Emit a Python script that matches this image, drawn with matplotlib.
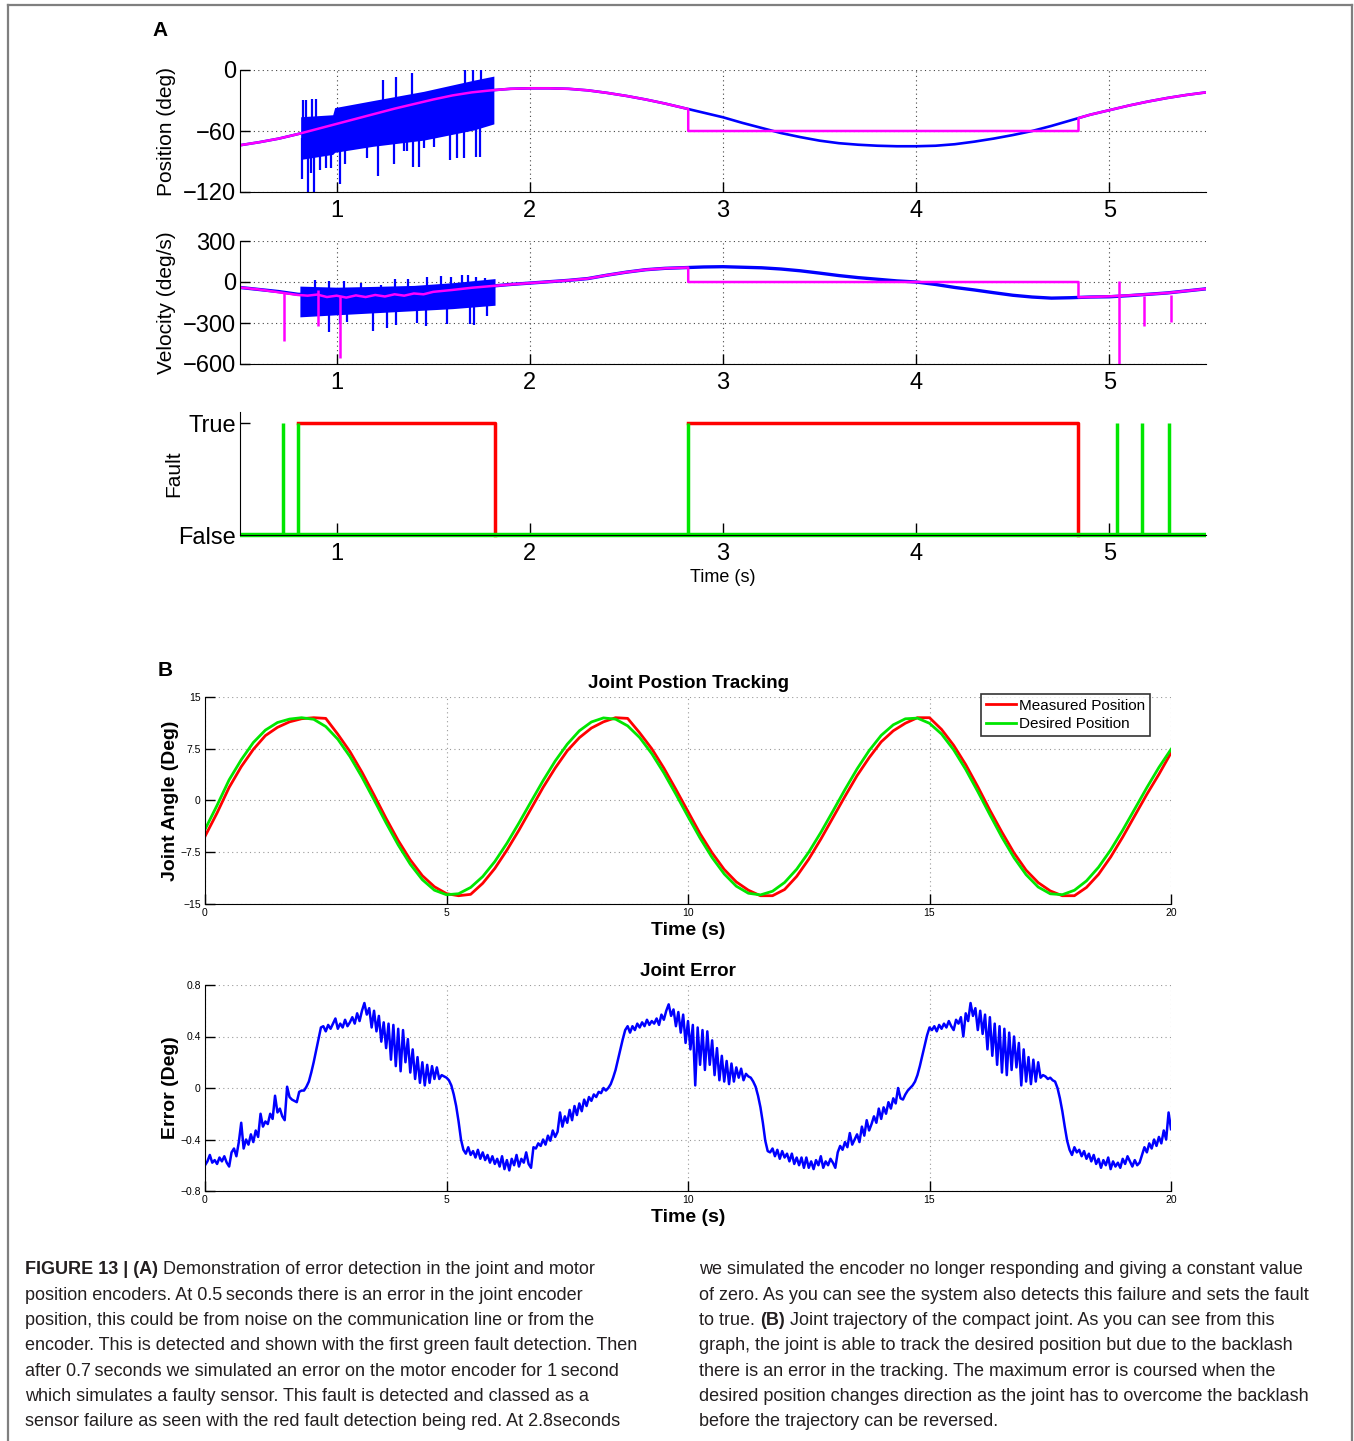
import numpy as np
import matplotlib
matplotlib.use("Agg")
import matplotlib.pyplot as plt

plt.rcParams["font.family"] = ["Liberation Sans", "DejaVu Sans"]
plt.rcParams["axes.unicode_minus"] = True

W, H = 1354, 1441
BLUE = "#0000ff"
MAGENTA = "#ff00ff"
RED = "#ff0000"
GREEN = "#00e600"
CAPTION_COLOR = "#231f20"

# ---------------- panel A data (time 0.5 .. 5.5 s, every 0.1 s) ----------------
A_T = np.linspace(0.5, 5.5, 51)

pos_joint = [-74, -71, -67.5, -63, -58, -53, -48, -43, -38, -33.5,
             -29, -25, -22, -20, -18.5, -18, -18, -18.5, -20, -22.5,
             -25.5, -29, -33, -37.5, -42, -46.5, -52, -57, -62, -66,
             -69.5, -72, -73.5, -74.5, -75, -75, -74.5, -73, -70.5, -67.5,
             -64, -60, -55, -49.5, -44, -39.5, -35, -31, -27.5, -24.5, -22]

# encoder failure: estimate held constant
pos_hold = -60.0
hold_window = (2.82, 4.84)
pos_hold_edges = (-38.4, -47.3)

# noisy burst on the joint encoder
pos_band_t = [0.814, 0.98, 0.99, 1.19, 1.45, 1.71, 1.814]
pos_band_hi = [-46, -44, -37, -30, -21, -10, -6]
pos_band_lo = [-88, -83, -81, -75, -69, -59, -53]
pos_spike_t = [0.826, 0.843, 0.874, 0.891, 1.241, 1.31, 1.39, 1.667, 1.707, 1.745,
               0.821, 0.852, 0.869, 0.881, 0.912, 0.947, 0.969, 1.016, 1.045, 1.159,
               1.214, 1.297, 1.348, 1.366, 1.397, 1.426, 1.452, 1.503, 1.589, 1.624,
               1.659, 1.719, 1.741]
pos_spike_v = [-30, -30, -29, -29, -10, -7, -3, 0, 0, 0,
               -107, -120, -101, -120, -98, -96, -96, -112, -92, -87,
               -104, -92, -80, -80, -95, -95, -77, -76, -89, -87,
               -87, -86, -86]

vel_joint = [-40, -55, -70, -90, -95, -105, -100, -97, -93, -85,
             -72, -58, -42, -30, -18, -8, 2, 12, 25, 50,
             72, 90, 100, 105, 110, 112, 108, 104, 95, 82,
             65, 47, 32, 20, 8, 0, -18, -40, -58, -78,
             -97, -110, -118, -115, -110, -108, -100, -90, -80, -65, -50]

vel_band_t = [0.81, 1.0, 1.2, 1.4, 1.6, 1.82]
vel_band_hi = [-30, -38, -32, -25, -5, 25]
vel_band_lo = [-255, -240, -225, -210, -195, -170]
vel_spike_t = [0.96, 1.02, 1.055, 1.19, 1.26, 1.31, 1.415, 1.465, 1.57, 1.69, 1.71, 1.78,
               0.89, 0.96, 1.04, 1.125, 1.23, 1.3, 1.37, 1.47, 1.54, 1.59, 1.65, 1.68, 1.72, 1.77]
vel_spike_v = [-366, -310, -290, -355, -340, -315, -300, -325, -305, -305, -315, -250,
               15, 10, 5, -10, -20, 20, 22, 35, 45, 40, 51, 48, 40, 30]

vel_est_t = [0.5, 0.6, 0.7, 0.8, 0.85, 0.9, 0.95, 1.0, 1.05, 1.1, 1.15, 1.2, 1.25, 1.3,
             1.35, 1.4, 1.45, 1.5, 1.6, 1.7, 1.8, 1.9, 2.0, 2.1, 2.2, 2.3, 2.4, 2.5,
             2.6, 2.7, 2.82, 2.82, 4.84, 4.84, 4.9, 5.0, 5.1, 5.2, 5.3, 5.4, 5.5]
vel_est = [-40, -55, -75, -95, -100, -92, -110, -100, -114, -98, -110, -95, -106, -90,
           -100, -84, -90, -72, -58, -42, -30, -18, -8, 2, 12, 25, 50, 72,
           90, 100, 106, 0, 0, -112, -110, -105, -98, -90, -80, -65, -50]
vel_est_spike_t = [0.728, 0.903, 1.02, 5.05, 5.18, 5.32]
vel_est_spike_base = [-80, -60, -100, 10, -100, -95]
vel_est_spike_tip = [-432, -324, -553, -600, -320, -290]

fault_detect_t = [0.72, 0.80, 2.82, 5.04, 5.17, 5.31]
failure_windows = [(0.80, 1.82), (2.82, 4.84)]

# ---------------- panel B data ----------------
B_T = np.linspace(0, 20, 81)
desired = [-4.2, -0.7, 3.0, 5.9, 8.4, 10.2, 11.3, 11.8, 12.0,
           11.77, 10.72, 8.88, 6.38, 3.38, 0.09, -3.26, -6.44, -9.24, -11.48, -13.0, -13.66,
           -13.51, -12.6, -11.02, -8.85, -6.21, -3.26, -0.17, 2.88, 5.72, 8.16, 10.10, 11.38, 11.97,
           11.79, 10.82, 9.12, 6.79, 4.0, 0.89, -2.33, -5.45, -8.28, -10.65, -12.42, -13.44,
           -13.68, -13.15, -11.88, -9.96, -7.49, -4.63, -1.54, 1.59, 4.57, 7.23, 9.44, 10.97, 11.84,
           11.94, 11.19, 9.63, 7.34, 4.5, 1.29, -2.06, -5.33, -8.29, -10.75, -12.54, -13.52,
           -13.65, -13.01, -11.65, -9.67, -7.17, -4.3, -1.22, 1.87, 4.80, 7.42]
measured = [-5.2, -1.8, 1.9, 4.9, 7.4, 9.4, 10.6, 11.4, 11.85,
            12.0, 11.9, 9.6, 7.1, 4.1, 0.8, -2.6, -5.8, -8.6, -10.9, -12.5, -13.5,
            -13.8, -13.6, -12.0, -9.85, -7.2, -4.3, -1.2, 1.9, 4.7, 7.2, 9.1, 10.5, 11.4,
            12.0, 11.9, 9.8, 7.5, 4.7, 1.6, -1.6, -4.8, -7.6, -10.0, -11.8, -13.0,
            -13.8, -13.8, -12.9, -11.0, -8.5, -5.6, -2.5, 0.6, 3.6, 6.2, 8.5, 10.1, 11.2,
            12.0, 12.0, 10.3, 8.0, 5.2, 2.0, -1.4, -4.6, -7.6, -10.1, -11.9, -13.1,
            -13.8, -13.8, -12.6, -10.7, -8.2, -5.3, -2.2, 0.9, 3.8, 6.9]

ERR_T = np.linspace(0, 20, 401)
joint_error = [
    -0.60, -0.57, -0.52, -0.58, -0.56, -0.59, -0.54, -0.57, -0.53, -0.58, -0.61, -0.50, -0.47, -0.53, -0.42, -0.27, -0.47, -0.40, -0.44, -0.36,
    -0.42, -0.33, -0.38, -0.20, -0.30, -0.26, -0.28, -0.20, -0.24, -0.06, -0.19, -0.16, -0.22, -0.25, 0.01, -0.07, -0.09, -0.10, -0.11, -0.03,
    -0.02, -0.02, 0.01, 0.05, 0.12, 0.20, 0.29, 0.38, 0.47, 0.48, 0.44, 0.49, 0.46, 0.50, 0.54, 0.46, 0.50, 0.47, 0.53, 0.48,
    0.51, 0.55, 0.50, 0.58, 0.52, 0.60, 0.66, 0.57, 0.62, 0.47, 0.60, 0.44, 0.56, 0.36, 0.51, 0.31, 0.50, 0.22, 0.49, 0.17,
    0.46, 0.13, 0.45, 0.20, 0.38, 0.12, 0.30, 0.07, 0.24, 0.04, 0.20, 0.02, 0.18, 0.04, 0.17, 0.07, 0.16, 0.07, 0.10, 0.09,
    0.08, 0.06, 0.02, -0.05, -0.14, -0.26, -0.40, -0.48, -0.51, -0.46, -0.52, -0.49, -0.54, -0.48, -0.55, -0.50, -0.56, -0.52, -0.58, -0.53,
    -0.59, -0.55, -0.61, -0.53, -0.63, -0.56, -0.64, -0.55, -0.60, -0.52, -0.61, -0.55, -0.58, -0.50, -0.59, -0.62, -0.46, -0.47, -0.43, -0.45,
    -0.40, -0.44, -0.37, -0.41, -0.33, -0.38, -0.34, -0.19, -0.30, -0.22, -0.27, -0.17, -0.25, -0.14, -0.21, -0.12, -0.18, -0.09, -0.14, -0.07,
    -0.10, -0.05, -0.07, -0.03, -0.04, 0.00, -0.02, 0.00, 0.03, 0.08, 0.14, 0.22, 0.30, 0.38, 0.45, 0.48, 0.43, 0.48, 0.45, 0.50,
    0.47, 0.51, 0.48, 0.53, 0.49, 0.52, 0.50, 0.54, 0.49, 0.57, 0.53, 0.60, 0.65, 0.56, 0.61, 0.48, 0.59, 0.43, 0.57, 0.35,
    0.52, 0.30, 0.49, 0.02, 0.47, 0.18, 0.45, 0.14, 0.44, 0.18, 0.37, 0.10, 0.31, 0.06, 0.25, 0.05, 0.21, 0.03, 0.19, 0.05,
    0.16, 0.08, 0.15, 0.06, 0.11, 0.09, 0.08, 0.05, 0.01, -0.06, -0.15, -0.27, -0.41, -0.49, -0.50, -0.47, -0.53, -0.48, -0.55, -0.49,
    -0.54, -0.51, -0.57, -0.51, -0.59, -0.54, -0.60, -0.54, -0.62, -0.54, -0.62, -0.57, -0.63, -0.56, -0.60, -0.53, -0.62, -0.57, -0.60, -0.55,
    -0.58, -0.62, -0.50, -0.45, -0.48, -0.42, -0.46, -0.35, -0.44, -0.40, -0.36, -0.42, -0.30, -0.37, -0.25, -0.33, -0.28, -0.22, -0.27, -0.16,
    -0.24, -0.15, -0.20, -0.11, -0.16, -0.08, -0.12, 0.00, -0.08, -0.09, -0.05, -0.02, 0.00, 0.02, 0.05, 0.10, 0.17, 0.25, 0.33, 0.41,
    0.47, 0.45, 0.48, 0.44, 0.49, 0.46, 0.50, 0.47, 0.52, 0.48, 0.45, 0.53, 0.50, 0.55, 0.40, 0.58, 0.52, 0.66, 0.56, 0.62,
    0.45, 0.60, 0.42, 0.57, 0.30, 0.55, 0.25, 0.50, 0.18, 0.48, 0.12, 0.46, 0.10, 0.43, 0.14, 0.40, 0.16, 0.35, 0.02, 0.30,
    0.05, 0.24, 0.03, 0.22, 0.05, 0.20, 0.08, 0.10, 0.09, 0.07, 0.08, 0.06, 0.05, 0.00, -0.08, -0.18, -0.30, -0.41, -0.48, -0.52,
    -0.46, -0.50, -0.48, -0.53, -0.49, -0.55, -0.51, -0.57, -0.52, -0.59, -0.55, -0.62, -0.56, -0.60, -0.54, -0.63, -0.57, -0.61, -0.58, -0.62,
    -0.55, -0.59, -0.53, -0.57, -0.61, -0.56, -0.60, -0.58, -0.52, -0.46, -0.50, -0.43, -0.47, -0.40, -0.45, -0.38, -0.43, -0.33, -0.40, -0.19,
    -0.32,
]
assert len(joint_error) == len(ERR_T)
assert len(desired) == len(measured) == len(B_T)
assert len(pos_joint) == len(vel_joint) == len(A_T)

caption_left = [
    [("FIGURE 13 | (A)", "bold"), (" Demonstration of error detection in the joint and motor", "normal")],
    [("position encoders. At 0.5\u2009seconds there is an error in the joint encoder", "normal")],
    [("position, this could be from noise on the communication line or from the", "normal")],
    [("encoder. This is detected and shown with the first green fault detection. Then", "normal")],
    [("after 0.7\u2009seconds we simulated an error on the motor encoder for 1\u2009second", "normal")],
    [("which simulates a faulty sensor. This fault is detected and classed as a", "normal")],
    [("sensor failure as seen with the red fault detection being red. At 2.8seconds", "normal")],
]
caption_right = [
    [("we simulated the encoder no longer responding and giving a constant value", "normal")],
    [("of zero. As you can see the system also detects this failure and sets the fault", "normal")],
    [("to true. ", "normal"), ("(B)", "bold"), (" Joint trajectory of the compact joint. As you can see from this", "normal")],
    [("graph, the joint is able to track the desired position but due to the backlash", "normal")],
    [("there is an error in the tracking. The maximum error is coursed when the", "normal")],
    [("desired position changes direction as the joint has to overcome the backlash", "normal")],
    [("before the trajectory can be reversed.", "normal")],
]


def add_axes_px(fig, left, top, right, bottom):
    return fig.add_axes([left / W, 1 - bottom / H, (right - left) / W, (bottom - top) / H])


def style_a(ax, grid=True):
    ax.set_xlim(0.5, 5.5)
    ax.set_xticks([1, 2, 3, 4, 5])
    for side in ("top", "right"):
        ax.spines[side].set_visible(False)
    ax.tick_params(direction="in", length=7, width=1, labelsize=17)
    ax.tick_params(axis="x", pad=6)
    ax.tick_params(axis="y", pad=3)
    if grid:
        ax.grid(True, linestyle=(0, (1, 3)), color="#444444", lw=0.8)
    ax.set_axisbelow(True)


def style_b(ax):
    ax.set_xlim(0, 20)
    ax.set_xticks([0, 5, 10, 15, 20])
    for side in ("top", "right"):
        ax.spines[side].set_visible(False)
    ax.tick_params(direction="in", length=7, width=1, labelsize=7.5, pad=3)
    ax.grid(True, linestyle=(0, (1, 3)), color="#999999", lw=0.8)
    ax.set_axisbelow(True)


def band_mid(t, band_t, lo, hi):
    return np.interp(t, band_t, (np.asarray(lo) + np.asarray(hi)) / 2)


def text_runs(fig, x_px, y_px, runs, size):
    renderer = fig.canvas.get_renderer()
    x = x_px
    for s, weight in runs:
        t = fig.text(x / W, 1 - y_px / H, s, fontsize=size, fontweight=weight,
                     color=CAPTION_COLOR, va="center", ha="left")
        x += t.get_window_extent(renderer=renderer).width


fig = plt.figure(figsize=(W / 100, H / 100), dpi=100)

# outer frame
for xs, ys in (([8, 8], [H + 5, 5]), ([8, 1352], [5, 5]), ([1352, 1352], [5, H + 5])):
    fig.add_artist(plt.Line2D([x / W for x in xs], [1 - y / H for y in ys],
                              color="#7f7f7f", lw=1.6))

fig.text(160 / W, 1 - 31 / H, "A", fontsize=15, fontweight="bold", ha="center", va="center")
fig.text(165 / W, 1 - 670 / H, "B", fontsize=15, fontweight="bold", ha="center", va="center")

# ---- position ----
ax_pos = add_axes_px(fig, 240, 70, 1206, 192)
style_a(ax_pos)
ax_pos.set_ylim(-120, 0)
ax_pos.set_yticks([-120, -60, 0])
ax_pos.plot(A_T, pos_joint, color=BLUE, lw=1.9)
ax_pos.fill_between(pos_band_t, pos_band_lo, pos_band_hi, color=BLUE, lw=0)
ax_pos.vlines(pos_spike_t, band_mid(pos_spike_t, pos_band_t, pos_band_lo, pos_band_hi),
              pos_spike_v, color=BLUE, lw=1.6)
before = A_T <= 2.8 + 1e-9
after = A_T >= 4.9 - 1e-9
pos_pjt = np.array(pos_joint)
mag_t = np.concatenate([A_T[before], [hold_window[0]] * 2, [hold_window[1]] * 2, A_T[after]])
mag_v = np.concatenate([pos_pjt[before], [pos_hold_edges[0], pos_hold, pos_hold, pos_hold_edges[1]],
                        pos_pjt[after]])
ax_pos.plot(mag_t, mag_v, color=MAGENTA, lw=1.8)
ax_pos.set_ylabel("Position (deg)", fontsize=15)
ax_pos.yaxis.set_label_coords((176 - 240) / 966, 0.5)

# ---- velocity ----
ax_vel = add_axes_px(fig, 240, 241, 1206, 364)
style_a(ax_vel)
ax_vel.set_ylim(-600, 300)
ax_vel.set_yticks([-600, -300, 0, 300])
ax_vel.plot(A_T, vel_joint, color=BLUE, lw=2.4)
ax_vel.fill_between(vel_band_t, vel_band_lo, vel_band_hi, color=BLUE, lw=0)
ax_vel.vlines(vel_spike_t, band_mid(vel_spike_t, vel_band_t, vel_band_lo, vel_band_hi),
              vel_spike_v, color=BLUE, lw=1.6)
ax_vel.plot(vel_est_t, vel_est, color=MAGENTA, lw=1.8)
ax_vel.vlines(vel_est_spike_t, vel_est_spike_base, vel_est_spike_tip, color=MAGENTA, lw=1.8)
ax_vel.set_ylabel("Velocity (deg/s)", fontsize=15)
ax_vel.yaxis.set_label_coords((176 - 240) / 966, 0.5)

# ---- fault ----
ax_flt = add_axes_px(fig, 240, 412, 1206, 535)
style_a(ax_flt, grid=False)
ax_flt.set_ylim(0, 1.1)
ax_flt.set_yticks([0, 1])
ax_flt.set_yticklabels(["False", "True"])
ax_flt.tick_params(axis="x", length=9)
for a, b in failure_windows:
    ax_flt.plot([a, b, b], [1, 1, 0], color=RED, lw=2.5, clip_on=False)
ax_flt.plot([0.5, 5.5], [0, 0], color=GREEN, lw=3.2, clip_on=False, solid_capstyle="butt")
ax_flt.vlines(fault_detect_t, 0, 1, color=GREEN, lw=2.5)
ax_flt.set_ylabel("Fault", fontsize=15)
ax_flt.yaxis.set_label_coords((183 - 240) / 966, 0.5)
ax_flt.set_xlabel("Time (s)", fontsize=13)
ax_flt.xaxis.set_label_coords(0.5, -(569 - 535) / 123)

# ---- tracking ----
ax_trk = add_axes_px(fig, 205, 697, 1171, 904)
style_b(ax_trk)
ax_trk.set_ylim(-15, 15)
ax_trk.set_yticks([-15, -7.5, 0, 7.5, 15])
ax_trk.set_yticklabels(["\u221215", "\u22127.5", "0", "7.5", "15"])
ax_trk.plot(B_T, measured, color=RED, lw=2.0, label="Measured Position")
ax_trk.plot(B_T, desired, color=GREEN, lw=2.0, label="Desired Position")
leg = ax_trk.legend(loc="upper right", bbox_to_anchor=((1150 - 205) / 966, 1 + 3 / 207),
                    borderaxespad=0, fontsize=11, frameon=True, fancybox=False,
                    handlelength=2.0, handletextpad=0.2, labelspacing=0.3, borderpad=0.3)
leg.get_frame().set_edgecolor("black")
leg.get_frame().set_linewidth(1.2)
ax_trk.text(0.5, 1 + (697 - 684) / 207, "Joint Postion Tracking", transform=ax_trk.transAxes,
            ha="center", va="center", fontsize=13.5, fontweight="bold")
ax_trk.set_ylabel("Joint Angle (Deg)", fontsize=14, fontweight="bold")
ax_trk.yaxis.set_label_coords((179 - 205) / 966, 0.5)
ax_trk.set_xlabel("Time (s)", fontsize=14, fontweight="bold")
ax_trk.xaxis.set_label_coords(0.5, -(922 - 904) / 207)

# ---- error ----
ax_err = add_axes_px(fig, 205, 985, 1171, 1191)
style_b(ax_err)
ax_err.set_ylim(-0.8, 0.8)
ax_err.set_yticks([-0.8, -0.4, 0, 0.4, 0.8])
ax_err.set_yticklabels(["\u22120.8", "\u22120.4", "0", "0.4", "0.8"])
ax_err.plot(ERR_T, joint_error, color=BLUE, lw=1.8)
ax_err.text(0.5, 1 + (985 - 971) / 206, "Joint Error", transform=ax_err.transAxes,
            ha="center", va="center", fontsize=13.5, fontweight="bold")
ax_err.set_ylabel("Error (Deg)", fontsize=14, fontweight="bold")
ax_err.yaxis.set_label_coords((179 - 205) / 966, 0.5)
ax_err.set_xlabel("Time (s)", fontsize=14, fontweight="bold")
ax_err.xaxis.set_label_coords(0.5, -(1209 - 1191) / 206)

# ---- caption ----
line_y = [1270, 1295.3, 1320.6, 1345.9, 1371.2, 1396.5, 1421.8]
for y, runs in zip(line_y, caption_left):
    text_runs(fig, 25, y, runs, 12.95)
for y, runs in zip(line_y, caption_right):
    text_runs(fig, 699, y, runs, 12.95)

fig.savefig("out.png", dpi=100)
